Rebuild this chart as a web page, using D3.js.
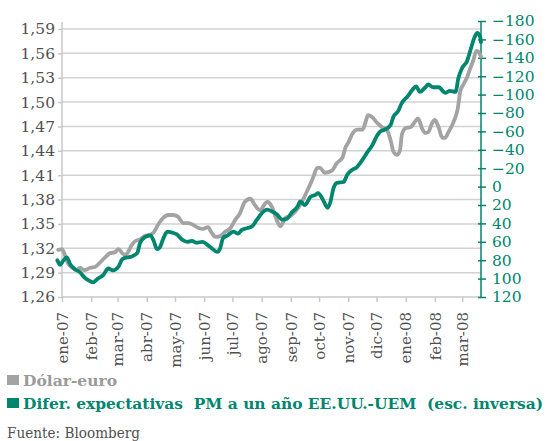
<!DOCTYPE html>
<html>
<head>
<meta charset="utf-8">
<script src="https://cdn.jsdelivr.net/npm/d3@7"></script>
<style>
  body { margin: 0; background: #fff; }
  svg { display: block; font-family: "DejaVu Serif", serif; }
</style>
</head>
<body>
<svg width="547" height="441"></svg>
<script>
// Dólar-euro (escala izquierda)
const usdDates = ['2006-12-28','2007-01-01','2007-01-04','2007-01-07','2007-01-12','2007-01-17','2007-01-20','2007-01-25','2007-01-31',
  '2007-02-05','2007-02-10','2007-02-16','2007-02-21','2007-02-26','2007-03-02','2007-03-06','2007-03-09','2007-03-12','2007-03-16',
  '2007-03-20','2007-03-25','2007-03-30','2007-04-02','2007-04-08','2007-04-13','2007-04-18','2007-04-24','2007-04-29','2007-05-04',
  '2007-05-10','2007-05-15','2007-05-20','2007-05-26','2007-05-31','2007-06-05','2007-06-09','2007-06-13','2007-06-18','2007-06-23',
  '2007-06-29','2007-07-04','2007-07-09','2007-07-14','2007-07-20','2007-07-25','2007-07-30','2007-08-07','2007-08-12','2007-08-17',
  '2007-08-21','2007-08-26','2007-09-02','2007-09-09','2007-09-14','2007-09-19','2007-09-25','2007-09-29','2007-10-02','2007-10-07',
  '2007-10-15','2007-10-20','2007-10-26','2007-10-29','2007-11-01','2007-11-06','2007-11-11','2007-11-16','2007-11-19','2007-11-22',
  '2007-11-26','2007-12-02','2007-12-07','2007-12-12','2007-12-16','2007-12-19','2007-12-23','2007-12-26','2007-12-28','2008-01-01',
  '2008-01-06','2008-01-11','2008-01-14','2008-01-19','2008-01-22','2008-01-25','2008-01-29','2008-02-01','2008-02-05','2008-02-09',
  '2008-02-12','2008-02-15','2008-02-21','2008-02-25','2008-02-28','2008-03-02','2008-03-06','2008-03-10','2008-03-13','2008-03-16',
  '2008-03-18','2008-03-21'];
const usdValues = [1.318,1.319,1.312,1.302,1.296,1.293,1.296,1.293,1.296,
  1.297,1.302,1.309,1.314,1.315,1.319,1.314,1.312,1.315,1.324,
  1.329,1.331,1.335,1.336,1.339,1.349,1.357,1.361,1.361,1.359,
  1.351,1.351,1.349,1.345,1.344,1.346,1.339,1.334,1.335,1.340,
  1.345,1.355,1.363,1.377,1.381,1.373,1.367,1.377,1.371,1.355,
  1.347,1.357,1.361,1.370,1.380,1.392,1.408,1.419,1.419,1.413,
  1.416,1.425,1.432,1.444,1.450,1.462,1.466,1.466,1.474,1.484,
  1.482,1.474,1.469,1.466,1.453,1.439,1.435,1.441,1.460,1.468,
  1.469,1.476,1.480,1.466,1.462,1.463,1.474,1.478,1.469,1.456,
  1.456,1.462,1.476,1.490,1.513,1.521,1.530,1.543,1.552,1.563,
  1.562,1.556];

// Difer. expectativas PM a un año EE.UU.-UEM (escala derecha, inversa)
const spreadDates = ['2006-12-27','2006-12-30','2007-01-02','2007-01-06','2007-01-10','2007-01-15','2007-01-20','2007-01-25','2007-01-31',
  '2007-02-03','2007-02-08','2007-02-14','2007-02-19','2007-02-24','2007-03-02','2007-03-06','2007-03-11','2007-03-16','2007-03-22',
  '2007-03-25','2007-03-30','2007-04-05','2007-04-08','2007-04-12','2007-04-15','2007-04-18','2007-04-23','2007-04-28','2007-05-03',
  '2007-05-09','2007-05-14','2007-05-19','2007-05-24','2007-05-30','2007-06-04','2007-06-09','2007-06-15','2007-06-18','2007-06-21',
  '2007-06-26','2007-07-02','2007-07-07','2007-07-11','2007-07-17','2007-07-22','2007-07-27','2007-08-02','2007-08-07','2007-08-12',
  '2007-08-17','2007-08-23','2007-08-28','2007-09-02','2007-09-08','2007-09-11','2007-09-16','2007-09-22','2007-09-27','2007-09-30',
  '2007-10-05','2007-10-10','2007-10-13','2007-10-16','2007-10-20','2007-10-27','2007-10-31','2007-11-05','2007-11-10','2007-11-16',
  '2007-11-21','2007-11-26','2007-12-02','2007-12-05','2007-12-10','2007-12-16','2007-12-19','2007-12-24','2007-12-28','2008-01-03',
  '2008-01-08','2008-01-12','2008-01-16','2008-01-22','2008-01-25','2008-01-30','2008-02-05','2008-02-12','2008-02-17','2008-02-23',
  '2008-02-26','2008-03-01','2008-03-06','2008-03-10','2008-03-14','2008-03-17','2008-03-20','2008-03-21'];
const spreadValues = [80,85,81,77,85,90,93,99,103,
  104,100,96,89,91,87,79,77,76,72,
  61,55,53,58,68,66,58,49,50,52,
  58,60,59,61,60,63,67,71,67,56,
  53,49,51,47,45,43,36,28,25,27,
  30,36,35,28,22,16,20,11,9,7,
  14,23,17,3,-4,-5,-13,-18,-21,-29,
  -37,-44,-56,-60,-62,-67,-76,-82,-91,-98,
  -105,-109,-103,-108,-111,-108,-108,-102,-104,-103,
  -118,-129,-136,-149,-162,-167,-163,-157];

const leftTicks = [1.26,1.29,1.32,1.35,1.38,1.41,1.44,1.47,1.50,1.53,1.56,1.59];
const rightTicks = [-180,-160,-140,-120,-100,-80,-60,-40,-20,0,20,40,60,80,100,120];
const monthNames = ['ene','feb','mar','abr','may','jun','jul','ago','sep','oct','nov','dic'];

const GREY = '#a3a3a3', GREEN = '#00866e', TEXT = '#505050';
const parse = d3.timeParse('%Y-%m-%d');
const svg = d3.select('svg');

const x = d3.scaleTime()
  .domain([parse('2007-01-01'), parse('2008-03-21')])
  .range([62, 481]);
const yL = d3.scaleLinear().domain([1.26, 1.59]).range([297, 29]);
const yR = d3.scaleLinear().domain([-180, 120]).range([21, 297]);   // inverted scale

// gridlines
svg.append('g').selectAll('line')
  .data(leftTicks.slice(1))
  .enter().append('line')
  .attr('x1', 62).attr('x2', 481)
  .attr('y1', d => yL(d)).attr('y2', d => yL(d))
  .attr('stroke', '#d2d2d2').attr('stroke-width', 1.5);

// left axis
const fmt = d => d3.format('.2f')(d).replace('.', ',');
const gL = svg.append('g').attr('transform', 'translate(62,0)')
  .call(d3.axisLeft(yL).tickValues(leftTicks).tickFormat(fmt).tickSize(4).tickPadding(3));
gL.select('.domain').attr('d', 'M0,22V297').attr('stroke', '#c8c8c8').attr('stroke-width', 1.5);
gL.selectAll('.tick line').attr('stroke', '#c8c8c8').attr('stroke-width', 1.5);
gL.selectAll('.tick text').attr('fill', TEXT).style('font-size', '15.5px').style('font-family', '"DejaVu Serif", serif');

// bottom axis
const months = d3.timeMonth.range(parse('2007-01-01'), parse('2008-03-02'));
const gB = svg.append('g').attr('transform', 'translate(0,297)')
  .call(d3.axisBottom(x).tickValues(months).tickSize(5)
    .tickFormat(d => monthNames[d.getMonth()] + '-' + d3.timeFormat('%y')(d)));
gB.select('.domain').attr('d', 'M62,0H481').attr('stroke', '#c8c8c8').attr('stroke-width', 1.5);
gB.selectAll('.tick line').attr('stroke', '#c8c8c8').attr('stroke-width', 1.5);
gB.selectAll('.tick text')
  .attr('fill', TEXT).style('font-size', '15px').style('font-family', '"DejaVu Serif", serif')
  .attr('text-anchor', 'end').attr('transform', 'rotate(-90)')
  .attr('x', -15).attr('y', 0).attr('dy', '0.35em');

// right axis
const gR = svg.append('g').attr('transform', 'translate(481,0)')
  .call(d3.axisRight(yR).tickValues(rightTicks).tickSize(5).tickPadding(6));
gR.select('.domain').attr('d', 'M0,21V297').attr('stroke', GREEN).attr('stroke-width', 1.5);
gR.selectAll('.tick line').attr('x1', -3).attr('stroke', GREEN).attr('stroke-width', 1.5);
gR.selectAll('.tick text').attr('fill', GREEN).style('font-size', '15.5px').style('font-family', '"DejaVu Serif", serif');

// lines
const usd = usdDates.map((d, i) => ({date: parse(d), v: usdValues[i]}));
const spread = spreadDates.map((d, i) => ({date: parse(d), v: spreadValues[i]}));

svg.append('path').datum(usd)
  .attr('fill', 'none').attr('stroke', GREY).attr('stroke-width', 3.8)
  .attr('stroke-linejoin', 'round').attr('stroke-linecap', 'round')
  .attr('d', d3.line().x(d => x(d.date)).y(d => yL(d.v)).curve(d3.curveMonotoneX));

svg.append('path').datum(spread)
  .attr('fill', 'none').attr('stroke', GREEN).attr('stroke-width', 3.8)
  .attr('stroke-linejoin', 'round').attr('stroke-linecap', 'round')
  .attr('d', d3.line().x(d => x(d.date)).y(d => yR(d.v)).curve(d3.curveMonotoneX));

// legend
const legend = [
  {label: 'Dólar-euro', color: GREY, text: '#9a9a9a', y: 375},
  {label: 'Difer. expectativas\u00a0\u00a0PM a un año EE.UU.-UEM\u00a0\u00a0(esc. inversa)', color: GREEN, text: GREEN, y: 398}
];
const lg = svg.append('g').selectAll('g').data(legend).enter().append('g');
lg.append('rect').attr('x', 7).attr('y', d => d.y).attr('width', 12).attr('height', 10).attr('fill', d => d.color);
lg.append('text').attr('x', 23).attr('y', d => d.y + 11)
  .attr('fill', d => d.text).style('font-size', '15.5px').style('font-weight', 'bold')
  .text(d => d.label);
lg.filter((d, i) => i === 1).select('text').attr('textLength', 520).attr('lengthAdjust', 'spacingAndGlyphs');
lg.filter((d, i) => i === 0).select('text').attr('textLength', 94).attr('lengthAdjust', 'spacingAndGlyphs');

svg.append('text').attr('x', 7).attr('y', 438)
  .attr('fill', TEXT).style('font-size', '15.5px')
  .attr('textLength', 133).attr('lengthAdjust', 'spacingAndGlyphs')
  .text('Fuente: Bloomberg');
</script>
</body>
</html>
